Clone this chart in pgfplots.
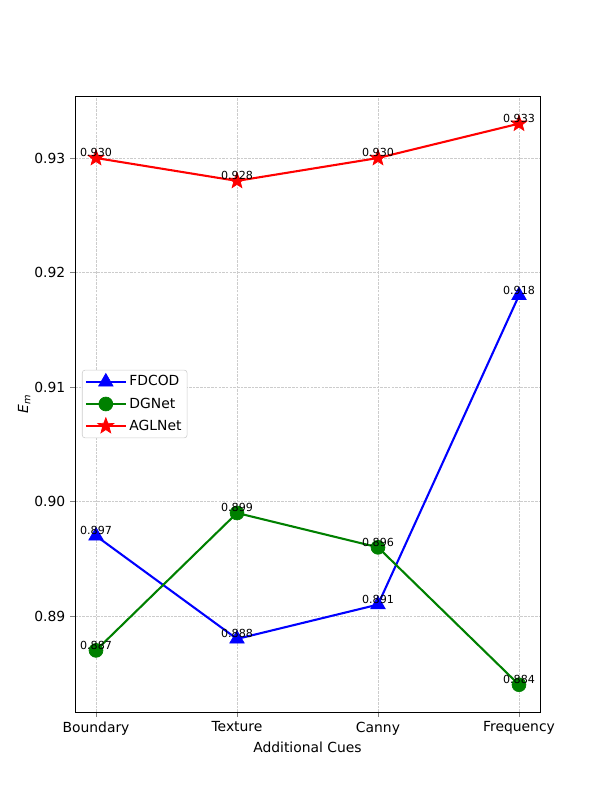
\documentclass[border=0pt]{standalone}
\usepackage{pgfplots}
\pgfplotsset{compat=1.18}
\usepackage{fontspec}
\setmainfont{DejaVu Sans}
\definecolor{mplgreen}{rgb}{0,0.5,0}
\pgfdeclareplotmark{fstar}{%
  \pgfpathmoveto{\pgfpointpolar{90}{\pgfplotmarksize}}%
  \pgfpathlineto{\pgfpointpolar{126}{0.42\pgfplotmarksize}}%
  \pgfpathlineto{\pgfpointpolar{162}{\pgfplotmarksize}}%
  \pgfpathlineto{\pgfpointpolar{198}{0.42\pgfplotmarksize}}%
  \pgfpathlineto{\pgfpointpolar{234}{\pgfplotmarksize}}%
  \pgfpathlineto{\pgfpointpolar{270}{0.42\pgfplotmarksize}}%
  \pgfpathlineto{\pgfpointpolar{306}{\pgfplotmarksize}}%
  \pgfpathlineto{\pgfpointpolar{342}{0.42\pgfplotmarksize}}%
  \pgfpathlineto{\pgfpointpolar{18}{\pgfplotmarksize}}%
  \pgfpathlineto{\pgfpointpolar{54}{0.42\pgfplotmarksize}}%
  \pgfpathclose
  \pgfusepathqfillstroke}
\begin{document}
\begin{tikzpicture}
\useasboundingbox (-54pt,-63.36pt) rectangle (378pt,512.64pt);
\begin{axis}[
  at={(0,0)}, anchor=south west,
  scale only axis,
  width=334.8pt, height=443.52pt,
  xmin=-0.149, xmax=3.149,
  ymin=0.88162, ymax=0.935415,
  xtick={0,1,2,3},
  xticklabels={Boundary,Texture,Canny,Frequency},
  ytick={0.89,0.90,0.91,0.92,0.93},
  yticklabel style={/pgf/number format/.cd,fixed,fixed zerofill,precision=2},
  /pgf/number format/assume math mode=true,
  tick label style={font=\fontsize{10}{12}\selectfont},
  tick align=outside,
  major tick length=3.5pt,
  xtick pos=bottom, ytick pos=left,
  grid=major,
  major grid style={dash pattern=on 1.85pt off 0.8pt, line width=0.5pt, color=black!20},
  xlabel={Additional Cues},
  ylabel={\textit{E}\textsubscript{\textit{m}}},
  label style={font=\fontsize{10}{12}\selectfont},
  xlabel style={yshift=2pt},
  ylabel style={yshift=-4pt},
  axis line style={line width=0.6pt},
  legend style={at={(rel axis cs:0.015,0.5)}, anchor=west, font=\fontsize{10}{12}\selectfont,
    draw=black!20, rounded corners=2pt, fill=white,
    inner xsep=2pt, inner ysep=2pt, row sep=3pt,
    /tikz/every even column/.append style={column sep=1pt}},
  legend image code/.code={\draw[mark repeat=2,mark phase=2] plot coordinates {(0cm,0cm)(0.5cm,0cm)(1cm,0cm)};},
  legend cell align=left,
  nodes near coords={\pgfmathprintnumber[fixed,fixed zerofill,precision=3]{\pgfplotspointmeta}},
  every node near coord/.append style={font=\fontsize{8}{9}\selectfont, anchor=south, inner sep=0.5pt, text=black},
  clip=false,
]
\addplot[blue, line width=1.5pt, mark=triangle*, mark size=6pt, mark options={solid, fill=blue, draw=blue, line width=0.5pt}] coordinates {
  (0,0.897) (1,0.888) (2,0.891) (3,0.918)
};
\addlegendentry{FDCOD}
\addplot[mplgreen, line width=1.5pt, mark=*, mark size=5pt, mark options={solid, fill=mplgreen, draw=mplgreen, line width=0.5pt}] coordinates {
  (0,0.887) (1,0.899) (2,0.896) (3,0.884)
};
\addlegendentry{DGNet}
\addplot[red, line width=1.5pt, mark=fstar, mark size=6pt, mark options={solid, fill=red, draw=red, line width=0.5pt}] coordinates {
  (0,0.930) (1,0.928) (2,0.930) (3,0.933)
};
\addlegendentry{AGLNet}
\end{axis}
\end{tikzpicture}
\end{document}
